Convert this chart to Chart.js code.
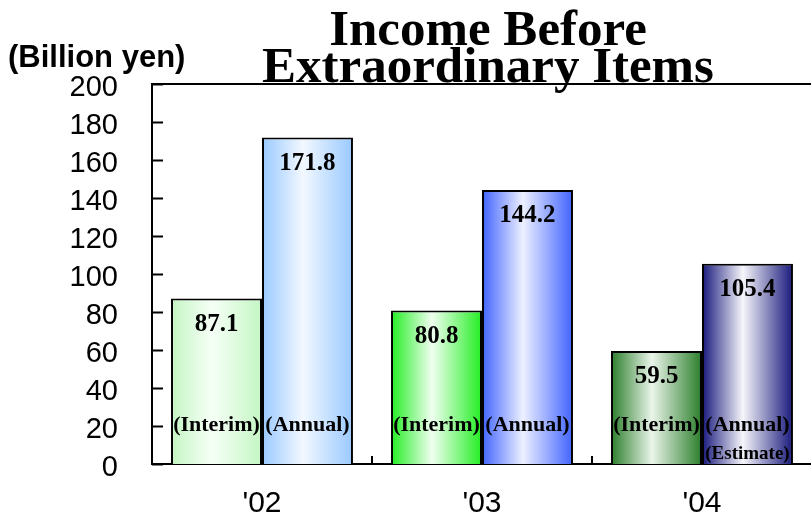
<!DOCTYPE html>
<html>
<head>
<meta charset="utf-8">
<script src="https://cdn.jsdelivr.net/npm/chart.js@4/dist/chart.umd.min.js"></script>
<style>
  html, body { margin: 0; padding: 0; overflow: hidden; background: #fff; }
  #wrap { width: 813px; height: 520px; }
</style>
</head>
<body>
<div id="wrap"><canvas id="c" width="813" height="520"></canvas></div>
<script>
// Fiscal years and results (billion yen)
const years = ["'02", "'03", "'04"];
const interim = [87.1, 80.8, 59.5];
const annual = [171.8, 144.2, 105.4];
const interimTags = ['(Interim)', '(Interim)', '(Interim)'];
const annualTags = ['(Annual)', '(Annual)', '(Annual)'];
const annualNotes = ['', '', '(Estimate)'];
const titleLines = ['Income Before', 'Extraordinary Items'];
const unitText = '(Billion yen)';

// Bar shading: edge colour fading to a pale centre
const interimEdge = ['#c4f6c4', '#22ee22', '#2a7d2a'];
const interimMid  = ['#f6fff6', '#f0fff0', '#eaf5ea'];
const annualEdge  = ['#99c9ff', '#4063ff', '#18187c'];
const annualMid   = ['#f2f8ff', '#edf0ff', '#f6f6fb'];

const CAT_PCT = 0.827;
const SANS = "'Liberation Sans', Arial, sans-serif";
const SERIF = "'Liberation Serif', 'Times New Roman', serif";

function barFill(edges, mids, side) {
  return (c) => {
    const chart = c.chart;
    const xs = chart.scales && chart.scales.x;
    const i = c.dataIndex;
    if (!xs || !chart.chartArea || i === undefined) return edges[0];
    const center = xs.getPixelForValue(i);
    const half = xs.width / years.length * CAT_PCT / 2;
    const x0 = side === 0 ? center - half : center;
    const g = chart.ctx.createLinearGradient(x0, 0, x0 + half, 0);
    g.addColorStop(0, edges[i]);
    g.addColorStop(0.45, mids[i]);
    g.addColorStop(1, edges[i]);
    return g;
  };
}

// Title, unit caption, frame line and inward tick marks
const decorations = {
  id: 'decorations',
  beforeDatasetsDraw(chart) {
    const { ctx, chartArea: a, scales: { x, y } } = chart;
    ctx.save();
    ctx.strokeStyle = '#000';
    ctx.lineWidth = 2;
    ctx.beginPath();
    ctx.moveTo(a.left - 1, a.top);
    ctx.lineTo(a.right + 2, a.top);
    // y ticks pointing into the plot
    y.ticks.forEach(t => {
      const py = Math.round(y.getPixelForValue(t.value)) + 0.5;
      ctx.moveTo(a.left, py);
      ctx.lineTo(a.left + 11, py);
    });
    ctx.stroke();
    // category separators on the x axis
    ctx.beginPath();
    for (let i = 1; i < years.length; i++) {
      const px = Math.round((x.getPixelForValue(i - 1) + x.getPixelForValue(i)) / 2);
      ctx.moveTo(px, a.bottom);
      ctx.lineTo(px, a.bottom - 8);
    }
    ctx.stroke();
    ctx.restore();
  },
  afterDraw(chart) {
    const { ctx } = chart;
    ctx.save();
    ctx.fillStyle = '#000';
    ctx.textAlign = 'center';
    ctx.textBaseline = 'alphabetic';
    ctx.font = `bold 51px ${SERIF}`;
    ctx.fillText(titleLines[0], 488, 45);
    ctx.fillText(titleLines[1], 488, 82);
    ctx.textAlign = 'left';
    ctx.font = `bold 31px ${SANS}`;
    ctx.fillText(unitText, 8, 67);
    ctx.restore();
  }
};

// Value and series tags inside each bar
const barTexts = {
  id: 'barTexts',
  afterDatasetsDraw(chart) {
    const { ctx } = chart;
    ctx.save();
    ctx.fillStyle = '#000';
    ctx.textAlign = 'center';
    ctx.textBaseline = 'middle';
    chart.data.datasets.forEach((ds, di) => {
      const meta = chart.getDatasetMeta(di);
      meta.data.forEach((el, i) => {
        ctx.font = `bold 25px ${SERIF}`;
        ctx.fillText(ds.data[i].toFixed(1), el.x, el.y + 26);
        ctx.font = `bold 22px ${SERIF}`;
        ctx.fillText(ds.tags[i], el.x, 425);
        if (ds.notes && ds.notes[i]) {
          ctx.font = `bold 19px ${SERIF}`;
          ctx.fillText(ds.notes[i], el.x, 454);
        }
      });
    });
    ctx.restore();
  }
};

new Chart(document.getElementById('c'), {
  type: 'bar',
  data: {
    labels: years,
    datasets: [
      {
        label: 'Interim',
        data: interim,
        tags: interimTags,
        backgroundColor: barFill(interimEdge, interimMid, 0),
        borderColor: '#000',
        borderWidth: 2,
        categoryPercentage: CAT_PCT,
        barPercentage: 1
      },
      {
        label: 'Annual',
        data: annual,
        tags: annualTags,
        notes: annualNotes,
        backgroundColor: barFill(annualEdge, annualMid, 1),
        borderColor: '#000',
        borderWidth: 2,
        categoryPercentage: CAT_PCT,
        barPercentage: 1
      }
    ]
  },
  options: {
    responsive: false,
    animation: false,
    events: [],
    layout: { padding: { left: 0, right: 1, top: 84, bottom: 0 } },
    plugins: {
      legend: { display: false },
      title: { display: false },
      tooltip: { enabled: false }
    },
    scales: {
      x: {
        z: 1,
        grid: { display: false, drawTicks: false },
        border: { display: true, color: '#000', width: 2 },
        ticks: { color: '#000', padding: 22, font: { family: SANS, size: 30 } },
        afterFit(s) { s.height = 56; }
      },
      y: {
        min: 0,
        max: 200,
        grid: { display: false, drawTicks: false },
        border: { display: true, color: '#000', width: 2 },
        ticks: { stepSize: 20, color: '#000', padding: 34, labelOffset: 4, font: { family: SANS, size: 29 } },
        afterFit(s) { s.width = 152; }
      }
    }
  },
  plugins: [decorations, barTexts]
});
</script>
</body>
</html>
